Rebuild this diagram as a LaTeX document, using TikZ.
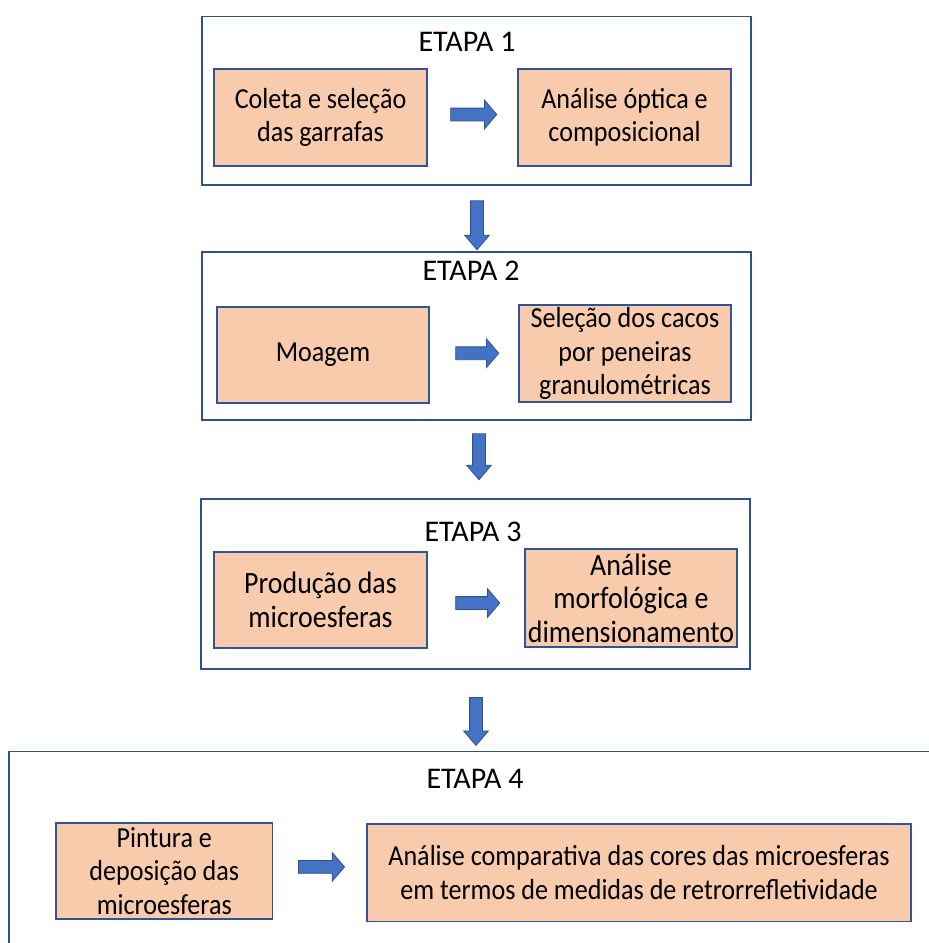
\documentclass[tikz,border=0pt]{standalone}
\usepackage{fontspec}
\setmainfont{Carlito}
\newfontfamily\boxfont{Carlito}[FakeStretch=0.9]
\usetikzlibrary{shapes.arrows,calc}
\definecolor{peach}{HTML}{F8CBAD}
\definecolor{boxline}{HTML}{2F5597}
\definecolor{frameline}{HTML}{2F528F}
\definecolor{arrowfill}{HTML}{4472C4}
\definecolor{arrowline}{HTML}{2F528F}
\begin{document}
\begin{tikzpicture}[x=1pt,y=-1pt,
  frame/.style={draw=frameline, line width=1.4pt, fill=white, inner sep=0pt},
  stepbox/.style={draw=boxline, line width=1.4pt, fill=peach, inner sep=0pt, align=center,
    font=\boxfont\fontsize{29}{33.5}\selectfont, text=black},
  bigstep/.style={stepbox, font=\boxfont\fontsize{31}{33.5}\selectfont},
  title/.style={font=\fontsize{30}{34}\selectfont, inner sep=0pt, text=black},
  blockarrow/.style={single arrow, draw=arrowline, fill=arrowfill, line width=0.8pt,
    minimum width=28pt, single arrow head extend=8pt, single arrow tip angle=99,
    inner sep=0pt, text height=6pt, text depth=6pt, text width=0pt},
  downarrow/.style={single arrow, draw=arrowline, fill=arrowfill, line width=0.8pt,
    minimum width=24pt, single arrow head extend=6pt, single arrow tip angle=81,
    inner sep=0pt, text height=6pt, text depth=6pt, text width=0pt, rotate=-90}]
\useasboundingbox (0,0) rectangle (929,943);
\fill[white] (0,0) rectangle (929,943);

% frames
\node[frame, minimum width=549pt, minimum height=168.5pt] (f1) at (476.5,100.75) {};
\node[frame, minimum width=549pt, minimum height=168pt] (f2) at (476.5,336) {};
\node[frame, minimum width=549pt, minimum height=170pt] (f3) at (475.5,584) {};
\node[frame, minimum width=936pt, minimum height=213.5pt] (f4) at (477,858.25) {};

% titles
\node[title] (t1) at (467,42) {ETAPA 1};
\node[title] (t2) at (471,271) {ETAPA 2};
\node[title] (t3) at (473,532) {ETAPA 3};
\node[title] (t4) at (475,779) {ETAPA 4};

% step boxes
\node[stepbox, minimum width=213pt, minimum height=97pt] (a1) at (320.5,117.5) {Coleta e seleção\\das garrafas};
\node[stepbox, minimum width=213pt, minimum height=97pt] (b1) at (624.5,117.5) {Análise óptica e\\composicional};
\node[stepbox, minimum width=212pt, minimum height=96pt] (a2) at (323,355) {Moagem};
\node[stepbox, minimum width=212pt, minimum height=97pt] (b2) at (625,353.5) {Seleção dos cacos\\por peneiras\\granulométricas};
\node[bigstep, minimum width=213pt, minimum height=96pt] (a3) at (320.5,600) {Produção das\\microesferas};
\node[bigstep, minimum width=212pt, minimum height=98pt] (b3) at (631,598) {Análise\\morfológica e\\dimensionamento};
\node[stepbox, minimum width=216.5pt, minimum height=96pt] (a4) at (164.25,871) {Pintura e\\deposição das\\microesferas};
\node[stepbox, minimum width=544pt, minimum height=97.5pt] (b4) at (639,872.75) {Análise comparativa das cores das microesferas\\em termos de medidas de retrorrefletividade};

% horizontal block arrows
\node[blockarrow, minimum height=46pt] (r1) at ($(a1.east)!0.5!(b1.west)+(-1.5,-3)$) {};
\node[blockarrow, minimum height=43pt] (r2) at ($(a2.east)!0.5!(b2.west)+(0.5,-1)$) {};
\node[blockarrow, minimum height=44pt] (r3) at ($(a3.east)!0.5!(b3.west)+(-1,4)$) {};
\node[blockarrow, minimum height=46pt] (r4) at ($(a4.east)!0.5!(b4.west)+(-1,-5)$) {};

% vertical block arrows
\node[downarrow, minimum height=49pt] (d1) at ($(f1.south)!0.5!(f2.north)+(0.5,3)$) {};
\node[downarrow, minimum height=46pt] (d2) at ($(f2.south)!0.5!(f3.north)+(3,-6.5)$) {};
\node[downarrow, minimum height=48pt] (d3) at ($(f3.south)+(0.5,48)$) {};
\end{tikzpicture}
\end{document}
